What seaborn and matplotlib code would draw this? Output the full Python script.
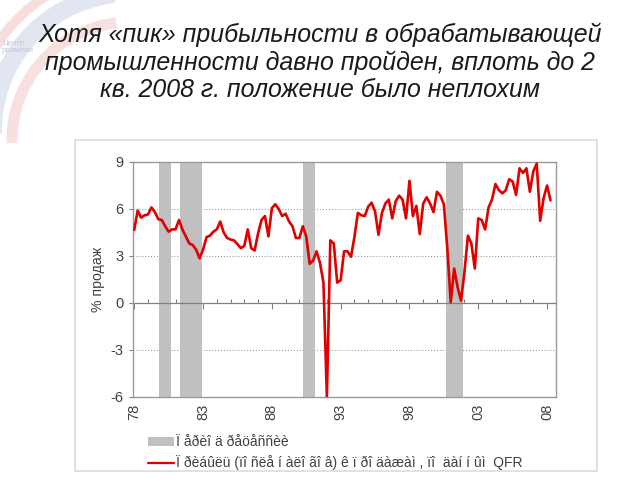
import numpy as np
import pandas as pd
import matplotlib
matplotlib.use("Agg")
import matplotlib.pyplot as plt
import matplotlib.patches as mpatches
import matplotlib.lines as mlines
import seaborn as sns

# ---- data ----
start_year = 1978
margin = [4.67, 5.9, 5.45, 5.6, 5.65, 6.1, 5.8, 5.35, 5.3, 4.9,
          4.55, 4.7, 4.7, 5.3, 4.7, 4.25, 3.8, 3.7, 3.4, 2.85,
          3.4, 4.2, 4.3, 4.55, 4.7, 5.2, 4.5, 4.15, 4.05, 4.0,
          3.75, 3.5, 3.65, 4.7, 3.5, 3.35, 4.45, 5.3, 5.55, 4.25,
          6.05, 6.3, 6.0, 5.55, 5.7, 5.2, 4.9, 4.15, 4.15, 4.9,
          4.25, 2.5, 2.7, 3.3, 2.55, 1.3, -6.0, 4.0, 3.8, 1.3,
          1.45, 3.3, 3.3, 2.95, 4.2, 5.75, 5.6, 5.55, 6.15, 6.4,
          5.85, 4.35, 5.75, 6.35, 6.6, 5.4, 6.5, 6.85, 6.6, 5.4,
          7.8, 5.55, 6.2, 4.4, 6.35, 6.75, 6.35, 5.8, 7.1, 6.85,
          6.3, 3.5, 0.05, 2.2, 1.0, 0.15, 2.0, 4.3, 3.8, 2.2,
          5.4, 5.3, 4.7, 6.1, 6.6, 7.6, 7.2, 7.0, 7.2, 7.9,
          7.75, 6.9, 8.6, 8.3, 8.6, 7.1, 8.4, 8.9, 5.25, 6.7,
          7.5, 6.55]
rec_start = [1979.78, 1981.31, 1990.23, 2000.65]
rec_end = [1980.68, 1982.91, 1991.15, 2001.87]
yticks = [-6, -3, 0, 3, 6, 9]
xtick_years = [1978, 1983, 1988, 1993, 1998, 2003, 2008]
xtick_labels = ["78", "83", "88", "93", "98", "03", "08"]
title_lines = ["Хотя «пик» прибыльности в обрабатывающей",
               "промышленности давно пройден, вплоть до 2",
               "кв. 2008 г. положение было неплохим"]
ylabel = "% продаж"
logo_text = "Центр\nразвития"
legend_labels = ["Ï åðèî ä ðåöåññèè",
                 "Ï ðèáûëü (ïî ñëå í àëî ãî â) ê ï ðî äàæàì , ïî  äàí í ûì  QFR"]

df = pd.DataFrame({"year": start_year + np.arange(len(margin)) / 4.0,
                   "margin": margin})

sns.set_theme(style="white")
plt.rcParams["font.family"] = ["Liberation Sans", "DejaVu Sans"]

fig = plt.figure(figsize=(6.4, 4.8), dpi=100)
fig.patch.set_facecolor("white")
W, H = 640, 480

# faint logo swooshes in the top-left corner
for (cx, cy, r, col, lw) in [(130, 130, 158, "#f7dede", 7),
                              (130, 130, 137, "#e2e6f0", 13),
                              (130, 140, 118, "#f8e0e0", 8)]:
    fig.add_artist(mpatches.Arc((cx / W, 1 - cy / H), 2 * r / W, 2 * r / H,
                                theta1=95, theta2=182, transform=fig.transFigure,
                                color=col, linewidth=lw, zorder=0))
fig.text(2 / W, 1 - 47 / H, logo_text, fontsize=5.5, linespacing=1.0,
         color="#c2c8d6", ha="left", va="center")

# outer light frame of the embedded chart
fig.add_artist(mpatches.Rectangle((75 / W, 1 - 471 / H), (597 - 75) / W,
                                  (471 - 140) / H, transform=fig.transFigure,
                                  fill=False, edgecolor="#dcdcdc", linewidth=1.2))

for i, line in enumerate(title_lines):
    fig.text(0.5, 1 - (35 + 27.5 * i) / H, line, fontsize=17.9,
             style="italic", ha="center", va="center", color="#1a1a1a")

ax = fig.add_axes([133 / W, 1 - 397 / H, (556 - 133) / W, (397 - 162) / H])

for s, e in zip(rec_start, rec_end):
    ax.axvspan(s, e, color="#c0c0c0", linewidth=0, zorder=1)

for yv in [-3, 3, 6]:
    ax.axhline(yv, color="#8c8c8c", linestyle=(0, (1, 2)), linewidth=0.7, zorder=0.5)

sns.lineplot(data=df, x="year", y="margin", ax=ax, color="#e00000",
             linewidth=1.9, zorder=3, legend=False)

ax.set_xlim(1977.91, 2008.65)
ax.set_ylim(-6, 9)
ax.set_yticks(yticks)
ax.set_yticklabels([str(v) for v in yticks])
ax.set_xticks(xtick_years)
ax.set_xticklabels(xtick_labels, rotation=90)
ax.set_xlabel("")
ax.set_ylabel(ylabel, fontsize=10.2, color="#404040", labelpad=4)
ax.tick_params(axis="y", direction="out", length=3, width=0.8, color="#808080",
               labelsize=10.5, labelcolor="#404040", pad=4, left=True)
ax.tick_params(axis="x", length=0, labelsize=10.5, labelcolor="#404040", pad=5)
for sp in ax.spines.values():
    sp.set_visible(True)
    sp.set_color("#9a9a9a")
    sp.set_linewidth(1.0)

# zero line with year ticks
ax.axhline(0, color="#808080", linewidth=0.9, zorder=2)
sec = ax.secondary_xaxis(0.4)
sec.set_xticks(xtick_years)
sec.set_xticks(list(range(1979, 2009)), minor=True)
sec.tick_params(axis="x", which="major", direction="out", length=4, width=0.8,
                color="#808080", labelbottom=False, labelsize=0)
sec.tick_params(axis="x", which="minor", direction="in", length=3, width=0.8,
                color="#808080")
sec.set_xticklabels([])
sec.spines["bottom"].set_visible(False)

handles = [mpatches.Patch(facecolor="#c0c0c0", edgecolor="none"),
           mlines.Line2D([], [], color="#e00000", linewidth=1.6)]
fig.legend(handles, legend_labels, loc="upper left",
           bbox_to_anchor=(148 / W, 1 - 435 / H), frameon=False,
           fontsize=10, handlelength=1.9, handleheight=0.6, handletextpad=0.1,
           labelspacing=0.45, borderpad=0, borderaxespad=0, labelcolor="#404040")

fig.savefig("out.png", dpi=100)
